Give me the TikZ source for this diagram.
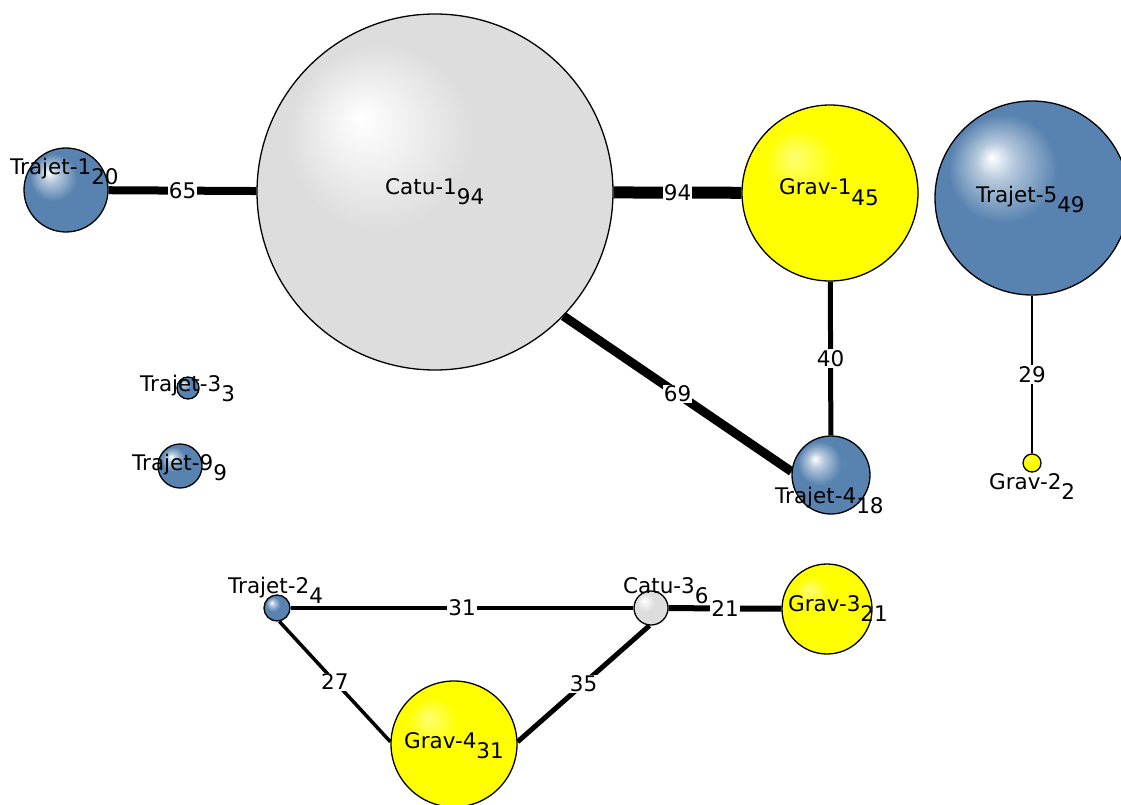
\documentclass[tikz,border=0pt]{standalone}
\usepackage{fontspec}
\setmainfont{DejaVu Sans}
\usetikzlibrary{backgrounds}
\definecolor{bluec}{RGB}{88,131,176}
\definecolor{grayc}{RGB}{221,221,221}
\definecolor{yelc}{RGB}{255,255,0}
\pgfdeclareradialshading{bluesh}{\pgfpoint{-10.5bp}{10.5bp}}{color(0bp)=(white); color(5bp)=(bluec!45!white); color(14bp)=(bluec); color(50bp)=(bluec)}
\pgfdeclareradialshading{graysh}{\pgfpoint{-10.5bp}{10.5bp}}{color(0bp)=(white); color(13bp)=(grayc); color(50bp)=(grayc)}
\pgfdeclareradialshading{yelsh}{\pgfpoint{-10.5bp}{10.5bp}}{color(0bp)=(yelc!55!white); color(10bp)=(yelc); color(50bp)=(yelc)}
\newcommand\lsub[1]{\raisebox{-10pt}{#1}}
\tikzset{
  ball/.style={circle, draw=black, line width=1.3pt, inner sep=0pt, minimum size=#1},
  bball/.style={ball=#1, shade, shading=bluesh},
  gball/.style={ball=#1, shade, shading=graysh},
  yball/.style={ball=#1, shade, shading=yelsh},
  lab/.style={anchor=base west, inner sep=0pt, font=\fontsize{21.5}{25}\selectfont},
  elab/.style={fill=white, inner sep=1pt, midway, font=\fontsize{21.5}{25}\selectfont},
}
\begin{document}
\begin{tikzpicture}[x=1pt,y=-1pt]
\useasboundingbox (0,0) rectangle (1121,805);
% nodes
\node[bball=84pt] (t1) at (66,190) {};
\node[gball=356pt] (c1) at (435,192) {};
\node[yball=176pt] (g1) at (830,193) {};
\node[bball=194pt] (t5) at (1032,198) {};
\node[bball=22pt] (t3) at (188,388) {};
\node[bball=44pt] (t9) at (180,466) {};
\node[bball=78pt] (t4) at (831,475) {};
\node[yball=18pt] (g2) at (1032,463) {};
\node[bball=26pt] (t2) at (277,608) {};
\node[gball=34pt] (c3) at (651,608) {};
\node[yball=90pt] (g3) at (827,609) {};
\node[yball=126pt] (g4) at (454,744) {};
% edges
\begin{scope}[on background layer]
\draw[line width=8pt] (t1) -- node[elab]{65} (c1);
\draw[line width=12pt] (c1) -- node[elab]{94} (g1);
\draw[line width=9pt] (c1.-44.5) -- node[elab]{69} (t4.175);
\draw[line width=5pt] (g1) -- node[elab]{40} (t4);
\draw[line width=2pt] (t5) -- node[elab]{29} (g2);
\draw[line width=4pt] (t2) -- node[elab]{31} (c3);
\draw[line width=6pt] (c3) -- node[elab]{21} (g3);
\draw[line width=3.5pt] (t2.-80) -- node[elab]{27} (g4.178);
\draw[line width=5pt] (c3.-95) -- node[elab]{35} (g4.2);
\end{scope}
% labels
\node[lab] (t1l) at (10,175) {Trajet-1\lsub{20}};
\node[lab] (c1l) at (385,194) {Catu-1\lsub{94}};
\node[lab] (g1l) at (779,195) {Grav-1\lsub{45}};
\node[lab] (t5l) at (976,202) {Trajet-5\lsub{49}};
\node[lab] (t3l) at (140,391) {Trajet-3\lsub{3}};
\node[lab] (t9l) at (132,470) {Trajet-9\lsub{9}};
\node[lab] (t4l) at (775,503) {Trajet-4\lsub{18}};
\node[lab] (g2l) at (989,489) {Grav-2\lsub{2}};
\node[lab] (t2l) at (228,593) {Trajet-2\lsub{4}};
\node[lab] (c3l) at (623,593) {Catu-3\lsub{6}};
\node[lab] (g3l) at (788,611) {Grav-3\lsub{21}};
\node[lab] (g4l) at (404,748) {Grav-4\lsub{31}};
\end{tikzpicture}
\end{document}
